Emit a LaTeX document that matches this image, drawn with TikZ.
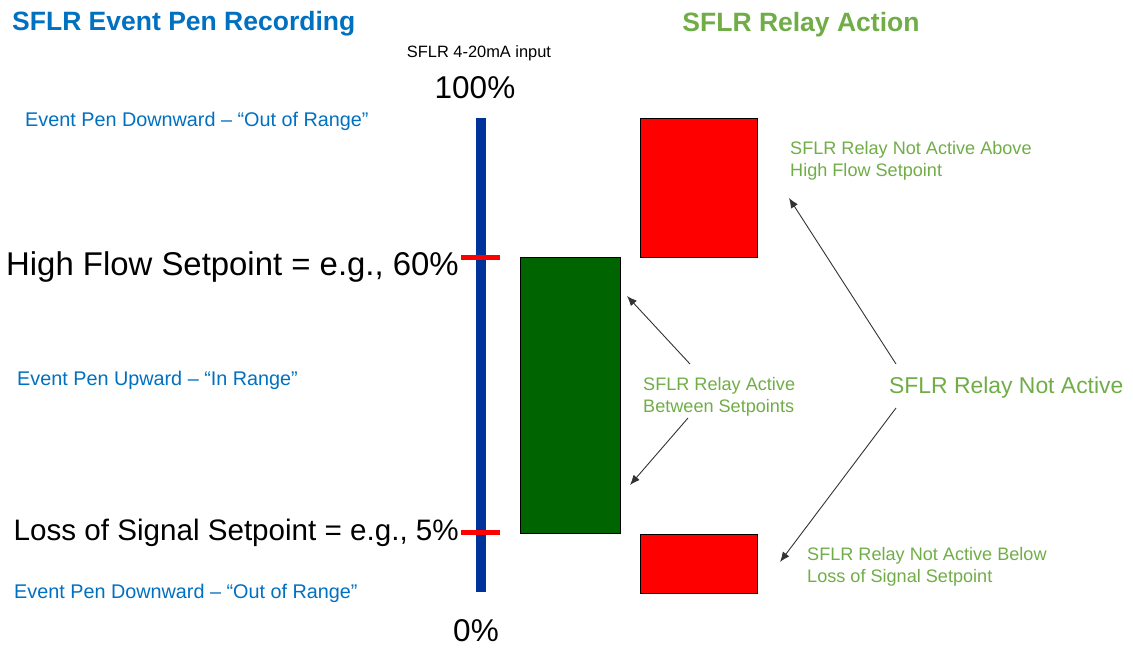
\documentclass[tikz,border=0pt]{standalone}
\usepackage{fontspec}
\setmainfont{Liberation Sans}
\usetikzlibrary{arrows.meta,positioning}
\definecolor{penblue}{HTML}{0070C0}
\definecolor{relaygreen}{HTML}{70AD47}
\definecolor{barblue}{HTML}{003399}
\definecolor{activegreen}{HTML}{006400}
\newcommand{\fs}[2]{\fontsize{#1}{#2}\selectfont}

\begin{document}
\begin{tikzpicture}[
    x=1pt,y=-1pt,
    title/.style={font=\fs{26.5}{30}\bfseries,inner sep=0pt},
    pentext/.style={text=penblue,font=\fs{19.8}{22},anchor=west,inner sep=0pt},
    relaytext/.style={text=relaygreen,font=\fs{18.1}{22.5},align=left,anchor=west,inner sep=0pt},
    scaletext/.style={font=\fs{31.5}{34},inner sep=0pt},
    spttext/.style={anchor=east,inner sep=0pt},
    relaybox/.style={draw=black,line width=0.8pt,inner sep=0pt},
    arr/.style={-{Latex[length=10pt,width=8pt]},line width=0.9pt,draw=black!80}
]
\useasboundingbox (0,0) rectangle (1133,648);
% titles
\node[title,text=penblue,anchor=west] (pentitle) at (12,24) {SFLR Event Pen Recording};
\node[title,text=relaygreen] (relaytitle) at (801,25) {SFLR Relay Action};
% input scale
\node[font=\fs{16.4}{18},inner sep=0pt] (input) at (479,53) {SFLR 4-20mA input};
\node[scaletext] (top) at (475,88) {100\%};
\node[scaletext] (bottom) at (476,631) {0\%};
\node[fill=barblue,minimum width=10pt,minimum height=474pt,inner sep=0pt] (bar) at (481,355) {};
\node[fill=red,minimum width=39pt,minimum height=5pt,inner sep=0pt] (hightick) at (480,257) {};
\node[fill=red,minimum width=39pt,minimum height=5pt,inner sep=0pt] (lowtick) at (480,532) {};
% setpoints
\node[spttext,font=\fs{32.9}{36}] (highsp) at (459,267) {High Flow Setpoint = e.g., 60\%};
\node[spttext,font=\fs{29.6}{32}] (lowsp) at (459,533) {Loss of Signal Setpoint = e.g., 5\%};
% event pen
\node[pentext] (pentop) at (25,121) {Event Pen Downward – “Out of Range”};
\node[pentext] (penmid) at (17,380) {Event Pen Upward – “In Range”};
\node[pentext] (penbot) at (14,593) {Event Pen Downward – “Out of Range”};
% relay boxes
\node[relaybox,fill=activegreen,minimum width=100pt,minimum height=276pt] (active) at (570,395) {};
\node[relaybox,fill=red,minimum width=117pt,minimum height=139pt] (offhigh) at (698.5,187.5) {};
\node[relaybox,fill=red,minimum width=117pt,minimum height=59pt] (offlow) at (698.5,563.5) {};
% relay labels
\node[relaytext] (activelbl) at (643,397) {SFLR Relay Active\\Between Setpoints};
\node[relaytext,font=\fs{22.9}{26}] (notactive) at (889,388) {SFLR Relay Not Active};
\node[relaytext] (abovelbl) at (790,161) {SFLR Relay Not Active Above\\High Flow Setpoint};
\node[relaytext] (belowlbl) at (807,567) {SFLR Relay Not Active Below\\Loss of Signal Setpoint};
% arrows
\coordinate (a1) at (627,296);
\coordinate (a2) at (630,485);
\coordinate (a3) at (789,198);
\coordinate (a4) at (780,562);
\draw[arr] ([shift={(47,-33)}]activelbl.west) -- (a1);
\draw[arr] ([shift={(45,21)}]activelbl.west) -- (a2);
\draw[arr] ([shift={(7,-24)}]notactive.west) -- (a3);
\draw[arr] ([shift={(7,20)}]notactive.west) -- (a4);
\end{tikzpicture}
\end{document}
